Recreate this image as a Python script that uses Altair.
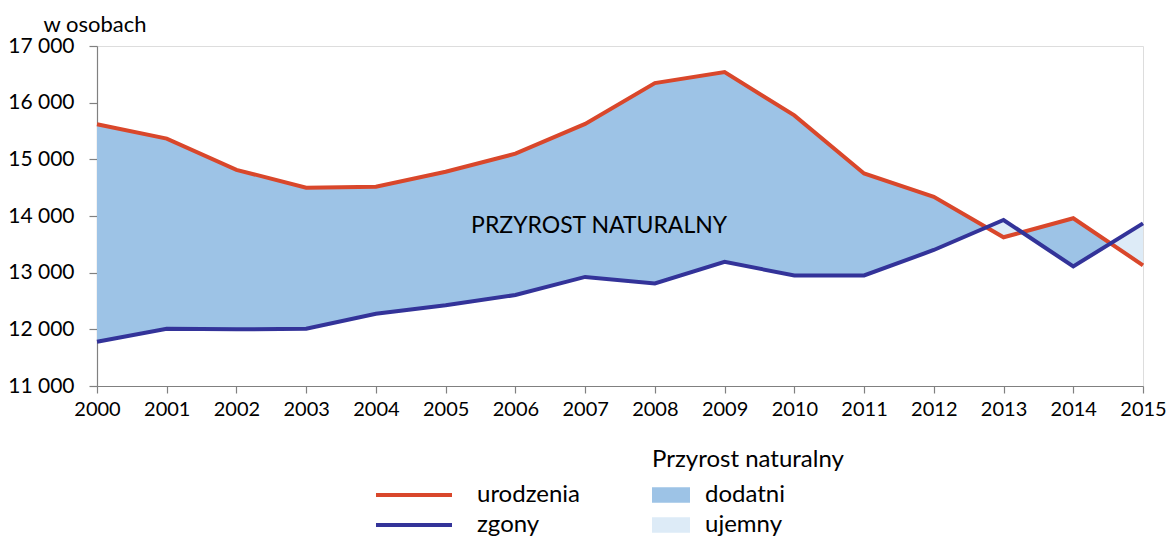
import altair as alt
import pandas as pd

# ---- data ----
years = list(range(2000, 2016))
urodzenia = [15620, 15365, 14815, 14500, 14515, 14780, 15100, 15625,
             16345, 16540, 15775, 14750, 14340, 13625, 13960, 13130]
zgony = [11780, 12010, 12000, 12010, 12275, 12425, 12605, 12925,
         12810, 13190, 12950, 12950, 13400, 13930, 13110, 13870]

series_names = ["urodzenia", "zgony"]
series_colors = ["#D9472B", "#333399"]
fill_names = ["dodatni", "ujemny"]
fill_colors = ["#9DC3E6", "#DDEBF7"]
y_ticks = [11000, 12000, 13000, 14000, 15000, 16000, 17000]
y_title = "w osobach"
legend_title = "Przyrost naturalny"
annotation_text = ["PRZYROST NATURALNY"]
annotation_x = [2007.2]
annotation_y = [13830]

FONT = "Lato"

# ---- fill polygons between the two lines, split where the lines cross ----
def kind_of(d):
    return fill_names[0] if d >= 0 else fill_names[1]

rows = []
run = 0
cur = kind_of(urodzenia[0] - zgony[0])
rows.append(dict(x=years[0], top=urodzenia[0], bot=zgony[0], kind=cur, run=run))
for i in range(len(years) - 1):
    d0 = urodzenia[i] - zgony[i]
    d1 = urodzenia[i + 1] - zgony[i + 1]
    if d0 * d1 < 0:
        t = d0 / (d0 - d1)
        xc = years[i] + t * (years[i + 1] - years[i])
        yc = urodzenia[i] + t * (urodzenia[i + 1] - urodzenia[i])
        rows.append(dict(x=xc, top=yc, bot=yc, kind=cur, run=run))
        run += 1
        cur = kind_of(d1)
        rows.append(dict(x=xc, top=yc, bot=yc, kind=cur, run=run))
    rows.append(dict(x=years[i + 1], top=urodzenia[i + 1], bot=zgony[i + 1], kind=cur, run=run))
fill_df = pd.DataFrame(rows)
fill_df["x"] = fill_df["x"].astype(float)
fill_df["top"] = fill_df["top"].astype(float)
fill_df["bot"] = fill_df["bot"].astype(float)
fill_df["run"] = fill_df["run"].astype(str)

lines_df = pd.DataFrame(
    {"x": years * 2,
     "v": urodzenia + zgony,
     "s": [series_names[0]] * len(years) + [series_names[1]] * len(years)}
)
ann_df = pd.DataFrame({"x": annotation_x, "y": annotation_y, "t": annotation_text})

x_scale = alt.Scale(domain=[years[0], years[-1]], nice=False, zero=False)
y_scale = alt.Scale(domain=[y_ticks[0], y_ticks[-1]], nice=False, zero=False)

AX = "#808080"
x_axis = alt.Axis(values=years, format="d", title=None, grid=False, labelOverlap=False,
                  labelFlush=False,
                  tickSize=7, labelPadding=6, labelFontSize=20, labelColor="#000000",
                  domainColor=AX, tickColor=AX, domainWidth=1.2, tickWidth=1.2,
                  labelFont=FONT)
y_axis = alt.Axis(values=y_ticks, labelExpr="replace(format(datum.value, ','), ',', ' ')",
                  grid=False, tickSize=8, labelPadding=15, labelFontSize=21,
                  labelColor="#000000", domainColor=AX, tickColor=AX,
                  domainWidth=1.2, tickWidth=1.2, labelFont=FONT, labelOverlap=False,
                  labelFlush=False,
                  title=y_title, titleAngle=0, titleX=-54, titleY=-15, titleAlign="left",
                  titleBaseline="alphabetic", titleFontSize=22, titleFontWeight="normal",
                  titleFont=FONT, titleColor="#000000")

areas = alt.Chart(fill_df).mark_area().encode(
    x=alt.X("x:Q", scale=x_scale, axis=x_axis),
    y=alt.Y("top:Q", scale=y_scale, axis=y_axis),
    y2=alt.Y2("bot:Q"),
    fill=alt.Fill("kind:N",
                  scale=alt.Scale(domain=fill_names, range=fill_colors),
                  legend=alt.Legend(orient="none", legendX=555, legendY=402,
                                    title=legend_title, titleFont=FONT, titleFontSize=24,
                                    titleFontWeight="normal", titleColor="#000000",
                                    titlePadding=11, titleLimit=500, labelLimit=300,
                                    symbolType="M-1.2,-0.78H2.6V0.78H-1.2Z", symbolSize=400,
                                    symbolStrokeWidth=0, symbolOpacity=1,
                                    labelOffset=29, labelFont=FONT, labelFontSize=24,
                                    labelColor="#000000", rowPadding=6, padding=0)),
    detail=alt.Detail("run:N"),
)

line_legend = alt.Legend(orient="none", legendX=279, legendY=437, title=None,
                         symbolType="M-2.4,0H12.8", symbolSize=100, symbolStrokeWidth=4,
                         labelOffset=77, labelFont=FONT, labelFontSize=24, labelLimit=300,
                         labelColor="#000000", rowPadding=6, padding=0)
stroke_enc = alt.Stroke("s:N", scale=alt.Scale(domain=series_names, range=series_colors),
                        legend=line_legend)

line_u = alt.Chart(lines_df).transform_filter(alt.datum.s == series_names[0]).mark_line(
    strokeWidth=4).encode(x="x:Q", y="v:Q", stroke=stroke_enc)
line_z = alt.Chart(lines_df).transform_filter(alt.datum.s == series_names[1]).mark_line(
    strokeWidth=4).encode(x="x:Q", y="v:Q", stroke=stroke_enc)

ann = alt.Chart(ann_df).mark_text(font=FONT, fontSize=23, color="#000000").encode(
    x="x:Q", y="y:Q", text="t:N")

chart = alt.layer(areas, line_u, line_z, ann).properties(
    width=1046, height=340,
    autosize=alt.AutoSizeParams(type="none"),
    padding={"left": 89, "top": 38, "right": 24, "bottom": 150},
).configure_view(stroke=None).configure(font=FONT)

chart.save("out.html", embed_options={"renderer": "svg", "actions": False})
